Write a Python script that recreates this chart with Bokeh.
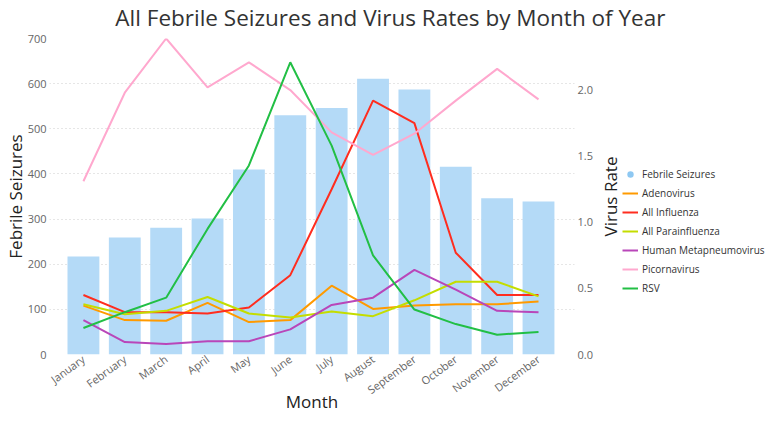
import math
from bokeh.plotting import figure
from bokeh.layouts import row, column
from bokeh.models import Range1d, LinearAxis, Legend, LegendItem, FixedTicker, NumeralTickFormatter
from bokeh.core.properties import value
from bokeh.embed import file_html
from bokeh.resources import INLINE

TITLE = "All Febrile Seizures and Virus Rates by Month of Year"
RIGHT_LABEL = "Virus Rate"
months = ["January", "February", "March", "April", "May", "June", "July",
          "August", "September", "October", "November", "December"]
febrile_seizures = [217, 259, 281, 301, 410, 530, 546, 611, 587, 416, 346, 339]
adenovirus = [0.37, 0.26, 0.255, 0.39, 0.245, 0.26, 0.52, 0.345, 0.37, 0.38, 0.38, 0.40]
all_influenza = [0.45, 0.32, 0.32, 0.31, 0.355, 0.60, 1.25, 1.92, 1.75, 0.77, 0.45, 0.45]
all_parainfluenza = [0.38, 0.305, 0.33, 0.435, 0.31, 0.28, 0.325, 0.29, 0.41, 0.55, 0.55, 0.44]
human_metapneumovirus = [0.26, 0.094, 0.08, 0.10, 0.10, 0.19, 0.375, 0.43, 0.64, 0.49, 0.33, 0.32]
picornavirus = [1.31, 1.98, 2.39, 2.02, 2.21, 2.00, 1.68, 1.51, 1.67, 1.92, 2.16, 1.93]
rsv = [0.20, 0.32, 0.43, 0.95, 1.43, 2.21, 1.58, 0.75, 0.34, 0.23, 0.15, 0.17]

left_ticks = [0, 100, 200, 300, 400, 500, 600, 700]
right_ticks = [0.0, 0.5, 1.0, 1.5, 2.0]

series = [
    ("Adenovirus", adenovirus, "#FF9A00"),
    ("All Influenza", all_influenza, "#FF2D1F"),
    ("All Parainfluenza", all_parainfluenza, "#C4DD00"),
    ("Human Metapneumovirus", human_metapneumovirus, "#B946B9"),
    ("Picornavirus", picornavirus, "#FFA8CE"),
    ("RSV", rsv, "#22BF45"),
]
BAR_COLOR = "#B4DAF7"

FONT = "Open Sans"
x = list(range(len(months)))

H_T = 30
ROW_H = 385
W1 = 595
W2 = 174


def bare(fig):
    fig.outline_line_color = None
    fig.xgrid.grid_line_color = None
    fig.ygrid.grid_line_color = None


# title strip
t = figure(width=W1 + W2, height=H_T, output_backend="svg", toolbar_location=None, title=None,
           x_range=Range1d(0, 1), y_range=Range1d(0, 1),
           min_border_left=0, min_border_right=0, min_border_top=0, min_border_bottom=0,
           x_axis_location=None, y_axis_location=None)
bare(t)
t.text(x=[0.507], y=[0.43], text=[TITLE], text_align="center", text_baseline="alphabetic",
       text_font=value(FONT), text_font_size="22.5px", text_color="#333333")

# main chart
p = figure(width=W1, height=ROW_H, output_backend="svg", toolbar_location=None, title=None,
           x_range=Range1d(-0.82, 11.87), y_range=Range1d(0, 700),
           min_border_left=0, min_border_right=0, min_border_top=8, min_border_bottom=0)
p.outline_line_color = None
p.background_fill_color = "white"

p.extra_y_ranges = {"rate": Range1d(0, 2.39)}

p.vbar(x=x, top=febrile_seizures, width=0.77, color=BAR_COLOR, line_color=None)
for name, vals, col in series:
    p.line(x=x, y=vals, line_color=col, line_width=2, y_range_name="rate")

ya = p.yaxis[0]
ya.ticker = FixedTicker(ticks=left_ticks)
ya.axis_label = "Febrile Seizures"
xa = p.xaxis[0]
xa.ticker = FixedTicker(ticks=x)
xa.major_label_overrides = {i: m for i, m in enumerate(months)}
xa.major_label_orientation = 0.63
xa.axis_label = "Month"

ra = LinearAxis(y_range_name="rate", ticker=FixedTicker(ticks=right_ticks),
                formatter=NumeralTickFormatter(format="0.0"))
p.add_layout(ra, "right")

for ax in [ya, xa, ra]:
    ax.axis_line_color = None
    ax.major_tick_line_color = None
    ax.minor_tick_line_color = None
    ax.major_tick_out = 0
    ax.major_tick_in = 0
    ax.minor_tick_out = 0
    ax.minor_tick_in = 0
    ax.major_label_text_font = FONT
    ax.major_label_text_font_size = "11px"
    ax.major_label_text_color = "#666666"
    ax.axis_label_text_font = FONT
    ax.axis_label_text_font_size = "17px"
    ax.axis_label_text_font_style = "normal"
    ax.axis_label_text_color = "#222222"
    ax.major_label_standoff = 3
    ax.axis_label_standoff = 2
ya.axis_label_standoff = -2
xa.axis_label_standoff = -16

p.xgrid.grid_line_color = None
p.ygrid.grid_line_color = "#cccccc"
p.ygrid.grid_line_dash = "1 3"
p.ygrid.grid_line_width = 1

# legend panel (with the right axis title)
q = figure(width=W2, height=ROW_H, output_backend="svg", toolbar_location=None, title=None,
           x_range=Range1d(0, 1), y_range=Range1d(0, 1),
           min_border_left=0, min_border_right=0, min_border_top=0, min_border_bottom=0,
           x_axis_location=None, y_axis_location=None)
bare(q)
q.text(x=[0.086], y=[0.5], text=[RIGHT_LABEL], angle=math.pi / 2, text_align="center",
       text_baseline="middle", text_font=value(FONT), text_font_size="17px", text_color="#222222")

items = [LegendItem(label="Febrile Seizures",
                    renderers=[q.scatter(x=[-5], y=[-5], size=6, color="#8EC8F2", line_color=None)])]
for name, vals, col in series:
    r = q.line(x=[-5, -4], y=[-5, -4], line_color=col, line_width=2)
    items.append(LegendItem(label=name, renderers=[r]))

legend = Legend(items=items, location=(27, 58), border_line_alpha=0, background_fill_alpha=0,
                label_text_font=FONT, label_text_font_size="10px", label_text_color="#333333",
                glyph_width=16, glyph_height=16, spacing=3, padding=0, margin=0,
                label_standoff=4, label_height=16)
q.add_layout(legend, "center")

layout = column(t, row(p, q, spacing=0), spacing=0)
open("out.html", "w").write(file_html(layout, INLINE))
